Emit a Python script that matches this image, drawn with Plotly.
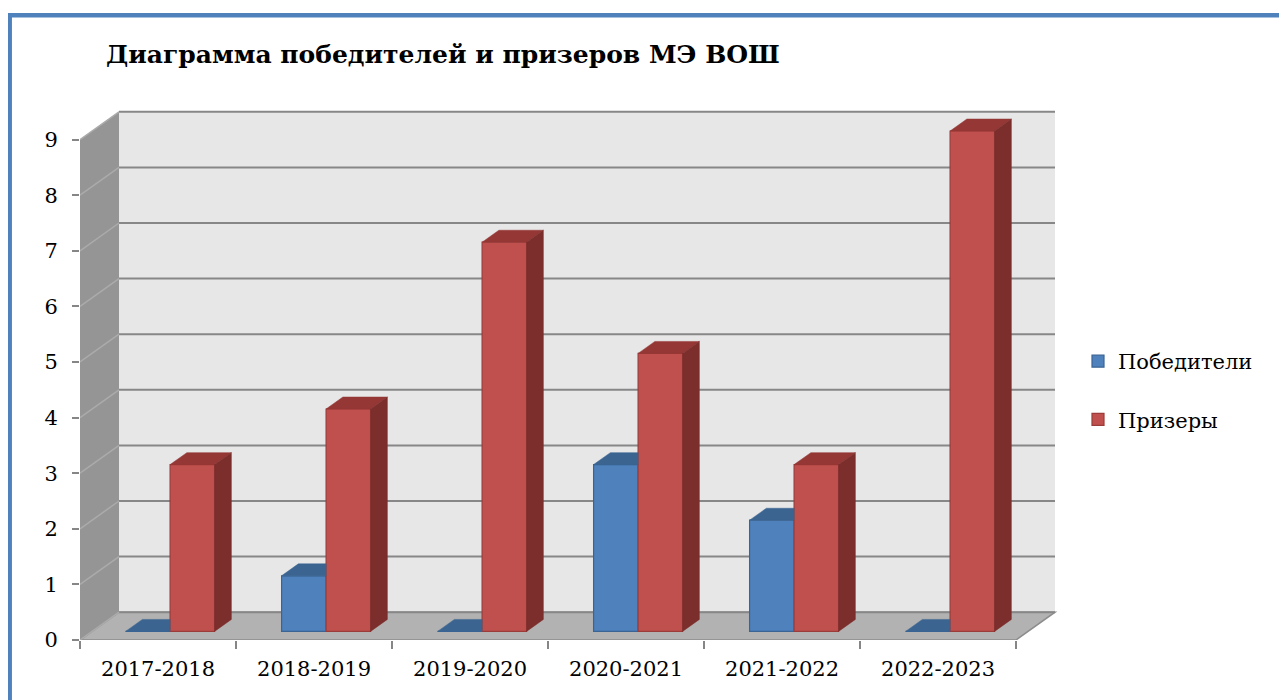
import plotly.graph_objects as go

# ---------------- data ----------------
categories = ["2017-2018", "2018-2019", "2019-2020", "2020-2021", "2021-2022", "2022-2023"]
winners = [0, 1, 0, 3, 2, 0]          # Победители
prizewinners = [3, 4, 7, 5, 3, 9]     # Призеры
y_ticks = [0, 1, 2, 3, 4, 5, 6, 7, 8, 9]
series_names = ["Победители", "Призеры"]
title_text = "Диаграмма победителей и призеров МЭ ВОШ"

# ---------------- geometry / style ----------------
OFF = 8                      # page body margin
W, H = 1287 - OFF, 700 - OFF
ML, MR, MT, MB = 72, 227, 97, 60
PX_PER_CAT = 156.0
PX_PER_UNIT = 55.6
DX = 39.0 / PX_PER_CAT       # full depth, x (category units)
DY = 27.8 / PX_PER_UNIT      # full depth, y (value units)
FA, FB = 0.31, 0.74          # bar front / back depth fraction
BAR_W = 44.5 / PX_PER_CAT
FONT = "DejaVu Serif"

n = len(categories)
ymax = max(y_ticks)
x_range = [-0.5, -0.5 + (W - ML - MR) / PX_PER_CAT]
y_range = [0, (H - MT - MB) / PX_PER_UNIT]

BLUE = dict(front="#4f81bd", line="#3a6494", top="#3b6491", side="#2f4f74")
RED = dict(front="#c0504d", line="#9b3c3a", top="#943735", side="#7c2e2c")

fig = go.Figure()

# ---------------- walls (shapes, below traces) ----------------
shapes = []
x0w, x1w = -0.5, n - 0.5
shapes.append(dict(type="path", layer="below", xref="x", yref="y",
                   path=f"M{x0w+DX},{DY} L{x1w+DX},{DY} L{x1w+DX},{ymax+DY} L{x0w+DX},{ymax+DY} Z",
                   fillcolor="#e7e7e7", line=dict(width=0)))
shapes.append(dict(type="path", layer="below", xref="x", yref="y",
                   path=f"M{x0w},0 L{x0w+DX},{DY} L{x0w+DX},{ymax+DY} L{x0w},{ymax} Z",
                   fillcolor="#959595", line=dict(width=0)))
shapes.append(dict(type="path", layer="below", xref="x", yref="y",
                   path=f"M{x0w},0 L{x1w},0 L{x1w+DX},{DY} L{x0w+DX},{DY} Z",
                   fillcolor="#b2b2b2", line=dict(color="#8c8c8c", width=1.5)))
for v in y_ticks:
    shapes.append(dict(type="line", layer="below", xref="x", yref="y",
                       x0=x0w + DX, x1=x1w + DX, y0=v + DY, y1=v + DY,
                       line=dict(color="#878787", width=2)))
    shapes.append(dict(type="line", layer="below", xref="x", yref="y",
                       x0=x0w, x1=x0w + DX, y0=v, y1=v + DY,
                       line=dict(color="#ababab", width=1.5)))

pw, ph = W - ML - MR, H - MT - MB
def px2paper_x(px):
    return (px - ML) / pw
def py2paper_y(py):
    return (H - MB - py) / ph
shapes.append(dict(type="rect", xref="paper", yref="paper", layer="above",
                   x0=px2paper_x(1.7), x1=px2paper_x(W + 20),
                   y0=py2paper_y(H + 20), y1=py2paper_y(7.3),
                   line=dict(color="#4f81bd", width=4.5), fillcolor="rgba(0,0,0,0)"))

# ---------------- bars: front faces ----------------
centers_blue = [i + FA * DX - BAR_W / 2 for i in range(n)]
centers_red = [i + FA * DX + BAR_W / 2 for i in range(n)]

fig.add_trace(go.Bar(x=centers_blue, y=winners, base=[FA * DY] * n, width=BAR_W,
                     name=series_names[0], legendgroup="a",
                     marker=dict(color=BLUE["front"], line=dict(color=BLUE["line"], width=1.2)),
                     hoverinfo="skip"))
fig.add_trace(go.Bar(x=centers_red, y=prizewinners, base=[FA * DY] * n, width=BAR_W,
                     name=series_names[1], legendgroup="b",
                     marker=dict(color=RED["front"], line=dict(color=RED["line"], width=1.2)),
                     hoverinfo="skip"))

# ---------------- bars: top & side faces ----------------
def face(xs, ys, color):
    fig.add_trace(go.Scatter(x=xs + [xs[0]], y=ys + [ys[0]], mode="lines", fill="toself",
                             fillcolor=color, line=dict(color=color, width=0.5),
                             showlegend=False, hoverinfo="skip"))

a, b = FA, FB
for i in range(n):
    vb, vr = winners[i], prizewinners[i]
    xl = i - BAR_W
    xr = i
    if vb > vr:
        face([xr + a * DX, xr + b * DX, xr + b * DX, xr + a * DX],
             [a * DY, b * DY, vb + b * DY, vb + a * DY], BLUE["side"])
        face([xl + a * DX, xr + a * DX, xr + b * DX, xl + b * DX],
             [vb + a * DY, vb + a * DY, vb + b * DY, vb + b * DY], BLUE["top"])
    else:
        face([xl + a * DX, xr + a * DX, xr + a * DX, xl + b * DX],
             [vb + a * DY, vb + a * DY, vb + b * DY, vb + b * DY], BLUE["top"])
    xl = i
    xr = i + BAR_W
    face([xl + a * DX, xr + a * DX, xr + b * DX, xl + b * DX],
         [vr + a * DY, vr + a * DY, vr + b * DY, vr + b * DY], RED["top"])
    face([xr + a * DX, xr + b * DX, xr + b * DX, xr + a * DX],
         [a * DY, b * DY, vr + b * DY, vr + a * DY], RED["side"])

fig.update_layout(
    shapes=shapes,
    width=W, height=H,
    margin=dict(l=ML, r=MR, t=MT, b=MB, autoexpand=False),
    paper_bgcolor="white", plot_bgcolor="rgba(0,0,0,0)",
    barmode="overlay",
    title=dict(text=title_text, x=98 / W, xanchor="left", xref="container",
               y=1 - 46 / H, yanchor="middle", yref="container",
               font=dict(family=FONT, size=25, color="black", weight="bold")),
    legend=dict(x=px2paper_x(1070), xanchor="left", y=py2paper_y(382.5), yanchor="middle",
                font=dict(family=FONT, size=21, color="black"),
                traceorder="grouped", tracegroupgap=28, bgcolor="rgba(0,0,0,0)"),
    xaxis=dict(range=x_range, showgrid=False, zeroline=False, showline=False,
               tickvals=list(range(n)), ticktext=categories, ticks="",
               ticklabelstandoff=14,
               tickfont=dict(family=FONT, size=21, color="black"),
               minor=dict(tickvals=[i - 0.5 for i in range(n + 1)], ticks="outside",
                          ticklen=8, tickcolor="#868686", tickwidth=1.5, showgrid=False)),
    yaxis=dict(range=y_range, showgrid=False, zeroline=False, showline=False,
               tickvals=y_ticks, ticks="outside", ticklen=7, tickcolor="#868686", tickwidth=1.5,
               ticklabelstandoff=10,
               tickfont=dict(family=FONT, size=21, color="black")),
)

fig.write_html("out.html")
